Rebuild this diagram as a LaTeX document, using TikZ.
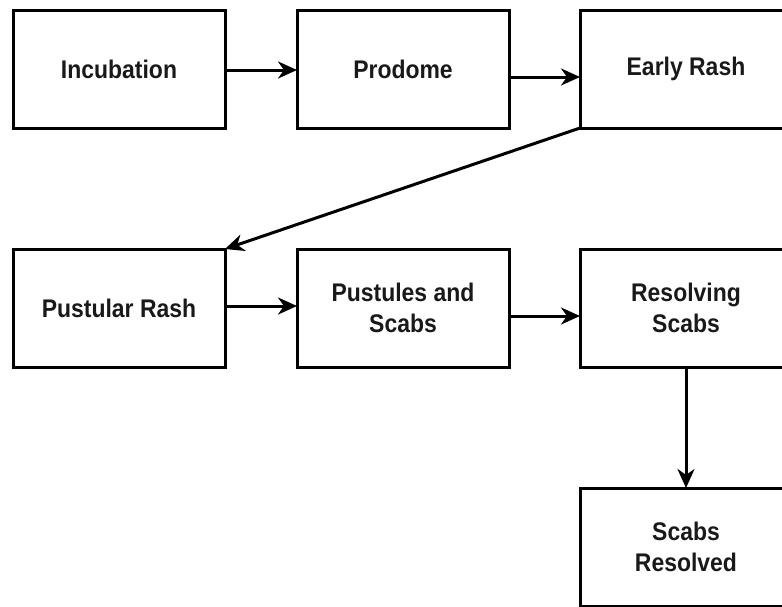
\documentclass[tikz,border=0pt]{standalone}
\usepackage{fontspec}
\setmainfont{Liberation Sans}[FakeStretch=0.9]
\usetikzlibrary{arrows.meta}
\begin{document}
\begin{tikzpicture}[x=1pt,y=-1pt,
  stage/.style={draw, line width=3pt, minimum width=212pt, minimum height=118pt,
    inner sep=0pt, outer sep=0pt, align=center, anchor=north west,
    text=black!90, font=\fontsize{25.5}{31}\selectfont\bfseries},
  flow/.style={line width=3pt, -{Stealth[length=19pt,width=17pt,inset=6pt]}}]
\useasboundingbox (0,0) rectangle (782,606);
\clip (0,0) rectangle (782,606);

% first row
\node[stage] (inc)   at (13,10)  {Incubation};
\node[stage] (prod)  at (297,10) {Prodome};
\node[stage] (early) at (580,10) {Early Rash};

% second row
\node[stage] (pus)  at (13,249)  {Pustular Rash};
\node[stage] (pas)  at (297,249) {Pustules and\\Scabs};
\node[stage] (res)  at (580,249) {Resolving\\Scabs};

% last stage
\node[stage] (fin)  at (580,488) {Scabs\\Resolved};

% connectors
\draw[flow] ([yshift=-1pt]inc.east) -- ([yshift=-1pt]prod.west);
\draw[flow] ([yshift=-8pt]prod.east) -- ([yshift=-8pt]early.west);
\draw[flow] (early.south west) -- (pus.north east);
\draw[flow] ([yshift=2pt]pus.east) -- ([yshift=2pt]pas.west);
\draw[flow] ([yshift=-8pt]pas.east) -- ([yshift=-8pt]res.west);
\draw[flow] (res.south) -- (fin.north);
\end{tikzpicture}
\end{document}
